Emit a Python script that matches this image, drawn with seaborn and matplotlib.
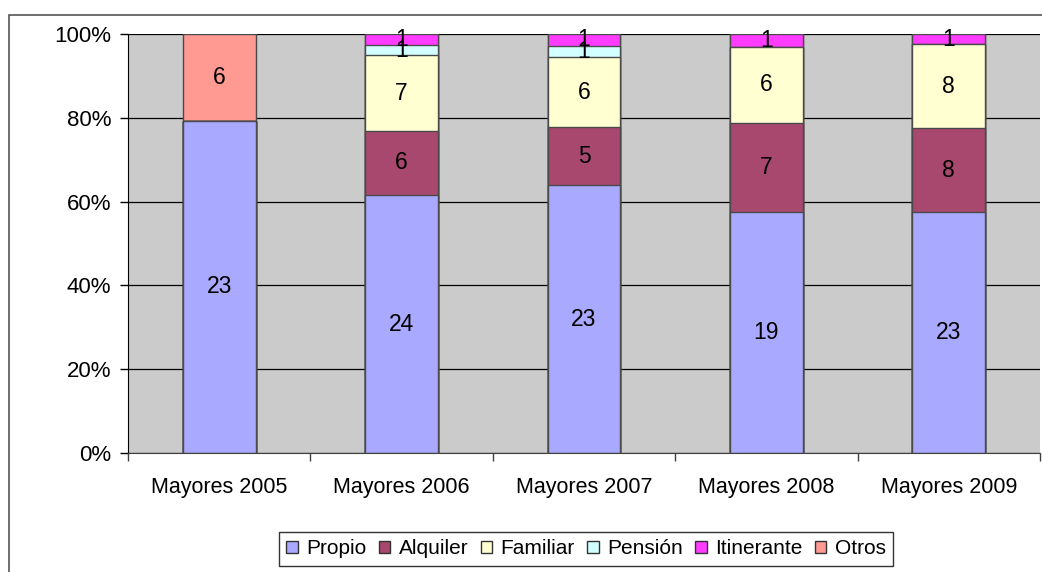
import numpy as np
import pandas as pd
import seaborn as sns
import matplotlib.pyplot as plt
from matplotlib.patches import Patch, Rectangle
from matplotlib.ticker import PercentFormatter

# data (counts per housing type)
categories = ["Mayores 2005", "Mayores 2006", "Mayores 2007", "Mayores 2008", "Mayores 2009"]
series_names = ["Propio", "Alquiler", "Familiar", "Pensión", "Itinerante", "Otros"]
propio = [23, 24, 23, 19, 23]
alquiler = [0, 6, 5, 7, 8]
familiar = [0, 7, 6, 6, 8]
pension = [0, 1, 1, 0, 0]
itinerante = [0, 1, 1, 1, 1]
otros = [6, 0, 0, 0, 0]
colors = ["#A9A9FF", "#A8486F", "#FFFFD2", "#D2FFFF", "#FF3CFF", "#FF9A92"]

counts = pd.DataFrame(
    [propio, alquiler, familiar, pension, itinerante, otros],
    index=series_names, columns=categories,
)
pct = counts / counts.sum(axis=0) * 100
cum = pct.cumsum(axis=0)

sns.set_style("white")
plt.rcParams["font.family"] = ["Liberation Sans", "DejaVu Sans"]
plt.rcParams["text.color"] = "black"
plt.rcParams["xtick.color"] = "black"
plt.rcParams["ytick.color"] = "black"

fig = plt.figure(figsize=(10.42, 5.72), dpi=100)
ax = fig.add_axes([128 / 1042, 119 / 572, 912 / 1042, 419 / 572])
ax.set_facecolor("#CBCBCB")

# stacked bars: draw cumulative totals from the top series down
for name, color in reversed(list(zip(series_names, colors))):
    sns.barplot(x=categories, y=cum.loc[name].values, color=color, width=0.4, saturation=1,
                edgecolor="#4A4A4A", linewidth=1.0, ax=ax, zorder=2)

# value labels in the middle of each segment
for i, cat in enumerate(categories):
    for name in series_names:
        v = counts.loc[name, cat]
        if v == 0:
            continue
        mid = cum.loc[name, cat] - pct.loc[name, cat] / 2
        ax.text(i, mid, str(v), ha="center", va="center", fontsize=16.5, color="black", zorder=5)

ax.set_ylim(0, 100)
ax.set_xlim(-0.5, len(categories) - 0.5)
ax.set_yticks(np.arange(0, 101, 20))
ax.yaxis.set_major_formatter(PercentFormatter(decimals=0))
ax.set_axisbelow(True)
ax.yaxis.grid(True, color="black", linewidth=0.9)
ax.set_xlabel("")
ax.set_ylabel("")

# x ticks sit between categories, labels centred under bars
ax.set_xticks(np.arange(-0.5, len(categories), 1.0))
ax.set_xticklabels([])
ax.set_xticks(range(len(categories)), minor=True)
ax.set_xticklabels(categories, minor=True)
ax.tick_params(axis="x", which="major", direction="out", length=6, width=1, color="#404040")
ax.tick_params(axis="x", which="minor", length=0, pad=17, labelsize=15.5)
ax.tick_params(axis="y", direction="out", length=6, width=1, color="black", labelsize=16, pad=6)
ax.tick_params(left=True, bottom=True)

for side in ["top", "right"]:
    ax.spines[side].set_visible(False)
ax.spines["left"].set_color("black")
ax.spines["bottom"].set_color("#404040")

handles = [Patch(facecolor=c, edgecolor="#333333", label=n) for n, c in zip(series_names, colors)]
leg = fig.legend(handles=handles, loc="center", bbox_to_anchor=(586 / 1042, 23 / 572), ncol=6,
                 fontsize=15, frameon=True, fancybox=False, edgecolor="black",
                 handlelength=0.55, handleheight=0.55, handletextpad=0.4, columnspacing=0.6,
                 borderpad=0.35)
leg.get_frame().set_linewidth(1.0)

# outer chart border (runs off the right and bottom of the image)
fig.patches.append(Rectangle((9 / 1042, -0.05), 1.1, 1.05 - 15 / 572, transform=fig.transFigure,
                             fill=False, edgecolor="#555555", linewidth=1.2))

fig.savefig("out.png", dpi=100, facecolor="white")
